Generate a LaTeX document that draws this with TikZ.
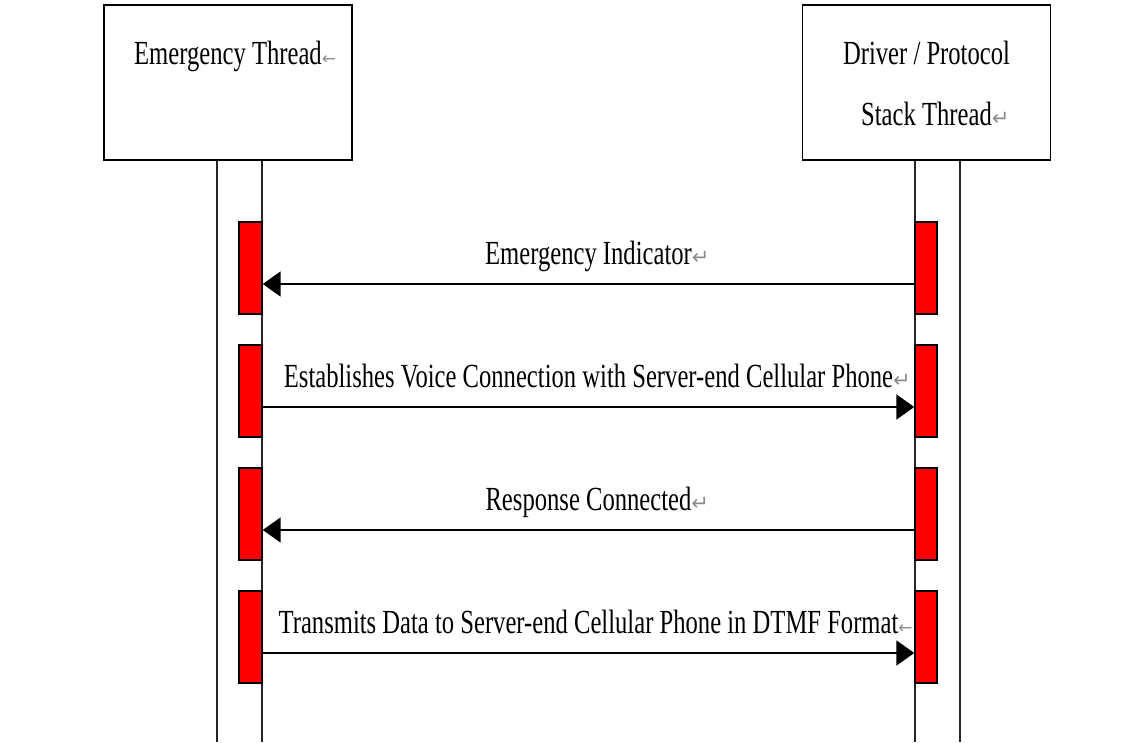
\documentclass[tikz,border=0pt]{standalone}
\usepackage{fontspec}
\setmainfont{Liberation Serif}
\newfontfamily\markfont{DejaVu Sans}
\usepackage{graphicx}
\usepackage{xcolor}
\usetikzlibrary{arrows.meta,positioning,calc}

\newcommand{\sqz}[1]{\scalebox{0.73}[1]{#1}}
\newcommand{\retmark}{\rlap{\markfont\fontsize{15}{16}\selectfont\color{black!45}↵}}
\newcommand{\lftmark}{\rlap{\markfont\fontsize{12}{14}\selectfont\color{black!45}←}}

\begin{document}
\begin{tikzpicture}[
    threadbox/.style={draw, line width=1.3pt, minimum width=6.2cm, minimum height=3.875cm, inner sep=0pt},
    actbar/.style={draw, fill=red, line width=1pt, minimum height=2.3cm, inner sep=0pt},
    lifeline/.style={line width=1.1pt, black!85},
    msg/.style={line width=1.9pt, -{Triangle[length=4.5mm,width=6.2mm]}},
    seqtext/.style={font=\fontsize{24}{28}\selectfont, anchor=base, inner sep=0pt}
]
    \useasboundingbox (0,0) rectangle (28.575,-18.55);

    % Thread boxes
    \node[threadbox] (emt) at (5.7,-2.0625) {};
    \node[threadbox] (drv) at (23.1625,-2.0625) {};

    \node[seqtext] (emtTitle) at ([yshift=-1.5cm]emt.north) {\sqz{Emergency Thread}\lftmark};
    \node[seqtext] (drvTitle) at ([yshift=-1.5cm]drv.north) {\sqz{Driver / Protocol}};
    \node[seqtext] (drvTitleB) at ([yshift=-3.025cm]drv.north) {\sqz{Stack Thread}\retmark};

    % Lifelines
    \coordinate (emtA) at (5.425,-18.55);
    \coordinate (emtB) at (6.55,-18.55);
    \coordinate (drvA) at (22.875,-18.55);
    \coordinate (drvB) at (24.0,-18.55);
    \foreach \c/\b in {emtA/emt, emtB/emt, drvA/drv, drvB/drv}
        \draw[lifeline] (\b.south -| \c) -- (\c);

    % Activation bars
    \foreach \i in {1,...,4} {
        \pgfmathsetmacro\yy{-6.7-3.075*(\i-1)}
        \node[actbar, minimum width=0.575cm] (barL\i) at (6.2625,\yy) {};
        \node[actbar, minimum width=0.55cm] (barR\i) at (23.15,\yy) {};
    }

    % Messages
    \draw[msg] ([yshift=-0.4cm]barR1.west) -- ([yshift=-0.4cm]barL1.east)
        node[seqtext, midway, yshift=0.5cm] (msgA) {\sqz{Emergency Indicator}\retmark};
    \draw[msg] ([yshift=-0.4cm]barL2.east) -- ([yshift=-0.4cm]barR2.west)
        node[seqtext, midway, yshift=0.5cm] (msgB) {\sqz{Establishes Voice Connection with Server-end Cellular Phone}\retmark};
    \draw[msg] ([yshift=-0.4cm]barR3.west) -- ([yshift=-0.4cm]barL3.east)
        node[seqtext, midway, yshift=0.5cm] (msgC) {\sqz{Response Connected}\retmark};
    \draw[msg] ([yshift=-0.4cm]barL4.east) -- ([yshift=-0.4cm]barR4.west)
        node[seqtext, midway, yshift=0.5cm] (msgD) {\sqz{Transmits Data to Server-end Cellular Phone in DTMF Format}\lftmark};
\end{tikzpicture}
\end{document}
